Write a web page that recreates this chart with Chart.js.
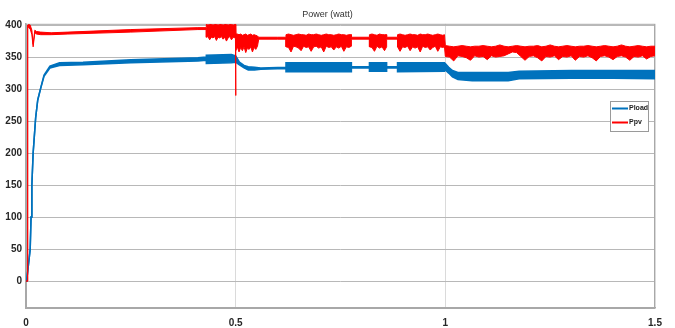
<!DOCTYPE html>
<html>
<head>
<meta charset="utf-8">
<script src="https://cdn.jsdelivr.net/npm/chart.js@4"></script>
<style>
  html, body { margin: 0; padding: 0; background: #fff; }
  #wrap { width: 675px; height: 328px; position: relative; }
</style>
</head>
<body>
<div id="wrap"><canvas id="chart"></canvas></div>
<script>
// time axis ticks and power ticks
const xTicks = [0, 0.5, 1, 1.5];
const yTicks = [0, 50, 100, 150, 200, 250, 300, 350, 400];

// Pload: time (s), upper and lower edge of the noisy trace (W)
const loadT  = [0, 0.002, 0.01, 0.012, 0.014, 0.017, 0.023, 0.028, 0.035, 0.043, 0.057, 0.08, 0.136, 0.25, 0.41, 0.43,
                0.43, 0.49, 0.5, 0.509, 0.52, 0.53, 0.545, 0.56, 0.62, 0.62, 0.776, 0.776, 0.819, 0.819, 0.86, 0.86,
                0.886, 0.886, 0.998, 1.0, 1.008, 1.017, 1.03, 1.064, 1.15, 1.176, 1.3, 1.4, 1.5];
const loadHi = [0, 3, 50, 100, 150, 200, 255, 283, 302, 322, 336, 341, 342, 346, 349, 350,
                353, 354, 352, 342, 337, 335, 334, 333, 334, 341, 341, 335, 335, 341, 341, 335,
                335, 341, 341, 340, 334, 329, 326, 326, 326, 328, 329, 329, 329];
const loadLo = [0, 3, 50, 100, 150, 200, 255, 283, 301, 320, 333, 337, 338, 341, 344, 345,
                340, 341, 342, 338, 333, 330, 330, 331, 332, 327, 327, 333, 333, 328, 328, 333,
                333, 327, 328, 330, 325, 319, 315, 313, 313, 316, 317, 317, 316];

// Ppv: time (s), upper and lower edge of the noisy trace (W)
const pvT = [0, 0.003, 0.004, 0.006, 0.01, 0.014, 0.017, 0.021, 0.025, 0.035, 0.06, 0.1, 0.25, 0.41, 0.43,
  0.43, 0.434, 0.438, 0.442, 0.446, 0.45, 0.454, 0.458, 0.462, 0.466, 0.47, 0.474, 0.478, 0.482, 0.486, 0.49, 0.494, 0.498,
  0.4995, 0.5, 0.5005,
  0.504, 0.508, 0.512, 0.516, 0.52, 0.524, 0.528, 0.532, 0.536, 0.54, 0.544, 0.548, 0.552, 0.555, 0.6, 0.62,
  0.62, 0.626, 0.632, 0.638, 0.644, 0.65, 0.656, 0.662, 0.668, 0.674, 0.68, 0.686, 0.692, 0.698, 0.704, 0.71,
  0.716, 0.722, 0.728, 0.734, 0.74, 0.746, 0.752, 0.758, 0.764, 0.77, 0.776,
  0.776, 0.819,
  0.819, 0.825, 0.831, 0.837, 0.843, 0.849, 0.855, 0.86,
  0.86, 0.886,
  0.886, 0.892, 0.898, 0.904, 0.91, 0.916, 0.922, 0.928, 0.934, 0.94, 0.946, 0.952, 0.958, 0.964, 0.97, 0.976,
  0.982, 0.988, 0.994, 0.998,
  1.0, 1.01, 1.02, 1.03, 1.04, 1.05, 1.06, 1.07, 1.08, 1.09,
  1.1, 1.11, 1.12, 1.13, 1.14, 1.15, 1.16, 1.17, 1.18, 1.19,
  1.2, 1.21, 1.22, 1.23, 1.24, 1.25, 1.26, 1.27, 1.28, 1.29,
  1.3, 1.31, 1.32, 1.33, 1.34, 1.35, 1.36, 1.37, 1.38, 1.39,
  1.4, 1.41, 1.42, 1.43, 1.44, 1.45, 1.46, 1.47, 1.48, 1.49,
  1.5];
const pvHi = [0, 0, 400, 401, 400, 392, 370, 392, 390, 389, 388, 389, 393, 396, 396,
  401, 400, 401, 401, 400, 401, 401, 400, 401, 401, 400, 401, 401, 400, 401, 401, 400, 401,
  401, 401, 386,
  386, 385, 386, 384, 385, 386, 384, 385, 386, 384, 385, 384, 383, 381, 381, 381,
  385, 386, 385, 384, 385, 386, 385, 385, 384, 386, 385, 385, 386, 385, 384, 385,
  386, 385, 385, 384, 385, 386, 385, 385, 384, 385, 385,
  381, 381,
  385, 386, 385, 384, 386, 385, 385, 385,
  381, 381,
  385, 386, 385, 384, 385, 386, 385, 385, 384, 386, 385, 385, 386, 385, 384, 385,
  386, 385, 384, 385,
  368, 367, 366, 367, 368, 367, 366, 367, 367, 368,
  367, 366, 367, 369, 367, 366, 367, 368, 367, 366,
  367, 367, 368, 366, 367, 369, 367, 366, 367, 368,
  367, 366, 367, 367, 368, 367, 366, 367, 368, 367,
  366, 367, 369, 367, 366, 367, 368, 367, 366, 367,
  367];
const pvLo = [0, 0, 400, 396, 394, 385, 366, 388, 386, 385, 385, 386, 389, 393, 393,
  381, 382, 377, 381, 380, 382, 376, 381, 380, 382, 378, 381, 375, 380, 382, 377, 381, 380,
  379, 290, 360,
  366, 358, 365, 360, 366, 357, 364, 362, 366, 358, 365, 362, 367, 378, 378, 378,
  366, 365, 358, 367, 366, 364, 360, 367, 365, 366, 359, 366, 367, 364, 366, 358,
  367, 365, 366, 361, 366, 364, 367, 359, 366, 365, 367,
  378, 378,
  366, 365, 359, 367, 364, 366, 360, 366,
  378, 378,
  366, 359, 366, 365, 367, 360, 366, 364, 366, 358, 367, 365, 366, 361, 365, 367,
  359, 366, 365, 366,
  351, 350, 344, 352, 351, 349, 345, 352, 350, 351,
  346, 352, 350, 351, 352, 355, 358, 357, 351, 345,
  351, 352, 349, 344, 351, 350, 352, 346, 351, 350,
  352, 345, 351, 350, 352, 349, 344, 351, 352, 350,
  346, 351, 352, 350, 345, 351, 350, 352, 347, 351,
  352];

const BLUE = '#0072BD';
const RED = '#FF0000';
const FONT = "'Liberation Sans', Arial, sans-serif";

const pts = (t, v) => t.map((x, i) => ({ x: x, y: v[i] }));

// grey box round the plot area, drawn under the traces
const plotFrame = {
  id: 'plotFrame',
  beforeDatasetsDraw(chart) {
    const a = chart.chartArea, ctx = chart.ctx;
    ctx.save();
    ctx.strokeStyle = '#a8a8a8';
    ctx.lineWidth = 1;
    ctx.strokeRect(a.left + 0.5, a.top + 0.5, a.right - a.left - 1, a.bottom - a.top);
    ctx.restore();
  }
};

const boxLegend = {
  id: 'boxLegend',
  afterDraw(chart) {
    const ctx = chart.ctx;
    const items = [{ text: 'Pload', color: BLUE }, { text: 'Ppv', color: RED }];
    const x = 610, y = 101, w = 38, h = 30;
    ctx.save();
    ctx.fillStyle = '#fff';
    ctx.fillRect(x, y, w, h);
    ctx.strokeStyle = '#9a9a9a';
    ctx.lineWidth = 1;
    ctx.strokeRect(x + 0.5, y + 0.5, w, h);
    ctx.font = 'bold 7px ' + FONT;
    ctx.textBaseline = 'middle';
    items.forEach((it, i) => {
      const ly = y + 7.5 + i * 14;
      ctx.strokeStyle = it.color;
      ctx.lineWidth = 2;
      ctx.beginPath();
      ctx.moveTo(x + 2, ly);
      ctx.lineTo(x + 18, ly);
      ctx.stroke();
      ctx.fillStyle = '#222';
      ctx.fillText(it.text, x + 19, ly);
    });
    ctx.restore();
  }
};

new Chart(document.getElementById('chart'), {
  type: 'line',
  data: {
    datasets: [{
      label: 'Pload',
      data: pts(loadT, loadHi),
      borderColor: BLUE,
      borderWidth: 1.5,
      order: 2
    }, {
      label: 'Pload_lo',
      data: pts(loadT, loadLo),
      borderColor: BLUE,
      backgroundColor: BLUE,
      borderWidth: 1.5,
      fill: '-1',
      order: 2
    }, {
      label: 'Ppv',
      data: pts(pvT, pvHi),
      borderColor: RED,
      borderWidth: 1,
      order: 1
    }, {
      label: 'Ppv_lo',
      data: pts(pvT, pvLo),
      borderColor: RED,
      backgroundColor: RED,
      borderWidth: 1,
      fill: '-1',
      order: 1
    }]
  },
  options: {
    responsive: true,
    maintainAspectRatio: false,
    animation: false,
    layout: { padding: { top: 2, right: 20, left: 0, bottom: 0 } },
    elements: { point: { radius: 0 }, line: { tension: 0 } },
    plugins: {
      legend: { display: false },
      tooltip: { enabled: false },
      title: {
        display: true,
        text: 'Power (watt)',
        color: '#333',
        font: { family: FONT, size: 9, weight: 'normal' },
        padding: { top: 7, bottom: 4 }
      }
    },
    scales: {
      x: {
        type: 'linear',
        min: 0,
        max: 1.5,
        afterBuildTicks: (s) => { s.ticks = xTicks.map(v => ({ value: v })); },
        afterFit: (s) => { s.height = 20; },
        grid: { color: '#dadada', lineWidth: 1, drawTicks: false },
        border: { color: '#a8a8a8', width: 1.5 },
        ticks: {
          padding: 9,
          color: '#262626',
          font: { family: FONT, size: 10, weight: 'bold' },
          callback: (v) => String(v),
          maxRotation: 0
        }
      },
      y: {
        min: -42,
        max: 402,
        afterBuildTicks: (s) => { s.ticks = yTicks.map(v => ({ value: v })); },
        afterFit: (s) => { s.width = 26; },
        grid: { color: '#b8b8b8', lineWidth: 1, drawTicks: false },
        border: { color: '#a8a8a8', width: 1.5 },
        ticks: {
          padding: 4,
          color: '#262626',
          font: { family: FONT, size: 10, weight: 'bold' }
        }
      }
    }
  },
  plugins: [plotFrame, boxLegend]
});
</script>
</body>
</html>
